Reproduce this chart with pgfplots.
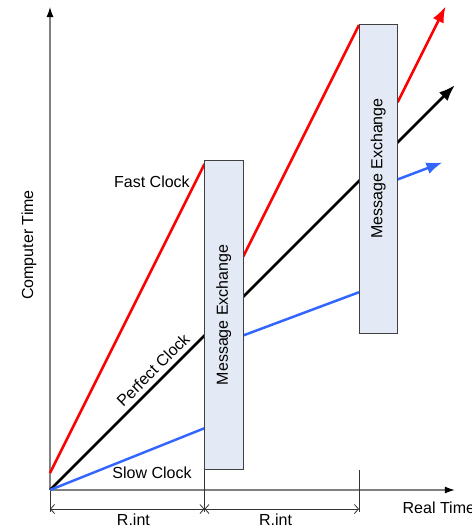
\documentclass[border=0pt]{standalone}
\usepackage{pgfplots}
\pgfplotsset{compat=1.18}
\usepackage{fontspec}
\setmainfont{Liberation Sans}
\usetikzlibrary{arrows.meta}
\definecolor{myred}{RGB}{255,0,0}
\definecolor{myblue}{RGB}{51,102,255}
\definecolor{boxfill}{RGB}{228,234,245}
\definecolor{axgray}{RGB}{128,128,128}
\begin{document}
\begin{tikzpicture}
\begin{axis}[
  x=154.5bp, y=154.5bp,
  xmin=0, xmax=2.62, ymin=0, ymax=3.13,
  axis lines=none, clip=false,
  xtick=\empty, ytick=\empty,
  anchor=origin, at={(0,0)},
  font=\fontsize{16bp}{19bp}\selectfont,
]
% axes
\addplot[axgray, line width=1.2bp, -{Latex[length=10bp,width=7bp,color=black]}] coordinates {(0,0) (2.62,0)};
\addplot[axgray, line width=1.2bp, -{Latex[length=10bp,width=7bp,color=black]}] coordinates {(0,0) (0,3.126)};
% dimension lines
\addplot[black!80, line width=0.8bp] coordinates {(0,0) (0,-0.142)};
\addplot[black!80, line width=0.8bp] coordinates {(1,0.13) (1,-0.142)};
\addplot[black!80, line width=0.8bp] coordinates {(2,0.13) (2,-0.142)};
\addplot[black!80, line width=0.8bp, {Straight Barb[length=4bp,width=9bp]}-{Straight Barb[length=4bp,width=9bp]}] coordinates {(0,-0.123) (1,-0.123)};
\addplot[black!80, line width=0.8bp, {Straight Barb[length=4bp,width=9bp]}-{Straight Barb[length=4bp,width=9bp]}] coordinates {(1,-0.123) (2,-0.123)};
% clocks
\addplot[black, line width=2.5bp, -{Latex[length=16bp,width=12bp]}] coordinates {(0,0) (2.62,2.62)};
\addplot[myred, line width=2.5bp] coordinates {(0,0.11) (1,2.11)};
\addplot[myred, line width=2.5bp] coordinates {(1.25,1.51) (2,3.01)};
\addplot[myred, line width=2.5bp, -{Latex[length=16bp,width=12bp]}] coordinates {(2.25,2.51) (2.56,3.13)};
\addplot[myblue, line width=2.5bp] coordinates {(0,0) (1,0.40)};
\addplot[myblue, line width=2.5bp] coordinates {(1.25,1.0) (2,1.28)};
\addplot[myblue, line width=2.5bp, -{Latex[length=16bp,width=12bp]}] coordinates {(2.25,2.01) (2.54,2.12)};
% message exchange boxes
\addplot[draw=black!75, fill=boxfill, line width=1bp] coordinates {(1,0.13) (1.25,0.13) (1.25,2.13) (1,2.13)} -- cycle;
\addplot[draw=black!75, fill=boxfill, line width=1bp] coordinates {(2,1.01) (2.25,1.01) (2.25,3.01) (2,3.01)} -- cycle;
% texts
\node[rotate=90] at (axis cs:1.125,1.133) {Message Exchange};
\node[rotate=90] at (axis cs:2.125,2.08) {Message Exchange};
\node[rotate=90] at (axis cs:-0.136,1.586) {Computer Time};
\node at (axis cs:0.66,1.994) {Fast Clock};
\node at (axis cs:0.66,0.11) {Slow Clock};
\node[rotate=45, inner sep=1bp] at (axis cs:0.667,0.777) {Perfect Clock};
\node[anchor=west] at (axis cs:2.26,-0.117) {Real Time};
\node at (axis cs:0.54,-0.19) {R.int};
\node at (axis cs:1.46,-0.19) {R.int};
\end{axis}
\pgfresetboundingbox
\path[use as bounding box] (-50bp,-37bp) rectangle (422bp,490bp);
\end{tikzpicture}
\end{document}
